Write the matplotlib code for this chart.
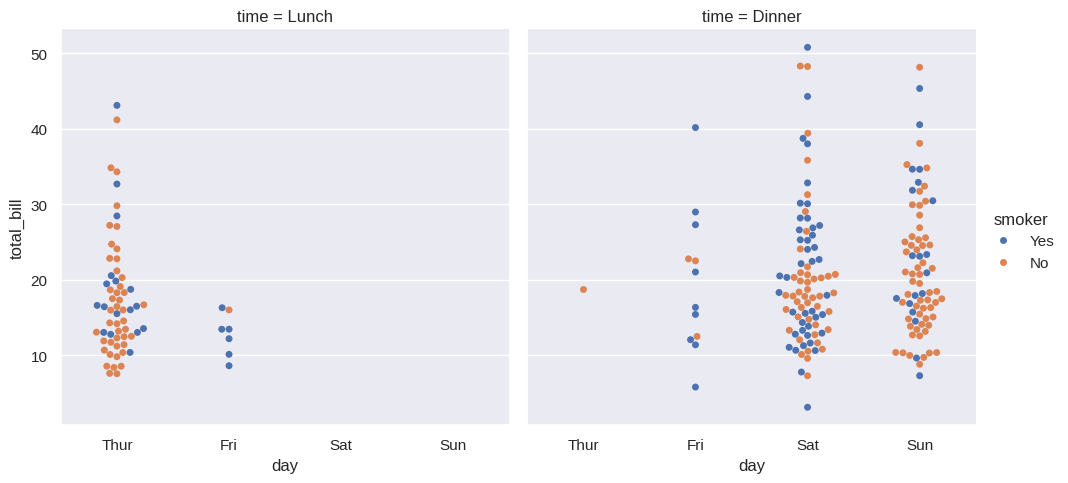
import pandas as pd
import seaborn as sns
import matplotlib
matplotlib.use("Agg")
import matplotlib.pyplot as plt

# === total_bill values, one list per (day, time, smoker) group ===
thur_lunch_yes = [19.44, 32.68, 16.00, 19.81, 28.44, 15.48, 16.58, 10.34, 43.11, 13.00,
                  13.51, 18.71, 12.74, 13.00, 16.40, 20.53, 16.47]
thur_lunch_no = [27.20, 22.76, 17.29, 16.66, 10.07, 15.98, 34.83, 13.03, 18.28, 24.71,
                 21.16, 10.65, 12.43, 24.08, 11.69, 13.42, 14.26, 15.95, 12.48, 29.80,
                 8.52, 14.52, 11.38, 22.82, 19.08, 20.27, 11.17, 12.26, 18.26, 8.51,
                 10.33, 14.15, 13.16, 17.47, 34.30, 41.19, 27.05, 16.43, 8.35, 18.64,
                 11.87, 9.78, 7.51, 7.56]
thur_dinner_no = [18.78]
fri_lunch_yes = [12.16, 13.42, 8.58, 13.42, 16.27, 10.09]
fri_lunch_no = [15.98]
fri_dinner_yes = [28.97, 5.75, 16.32, 40.17, 27.28, 12.03, 21.01, 11.35, 15.38]
fri_dinner_no = [22.49, 22.75, 12.46]
sat_dinner_yes = [38.01, 11.24, 20.29, 13.81, 11.02, 18.29, 3.07, 15.01, 26.86, 25.28,
                  17.92, 44.30, 22.42, 15.36, 20.49, 25.21, 14.31, 10.59, 10.63, 50.81,
                  15.81, 26.59, 38.73, 24.27, 12.76, 30.06, 25.89, 13.27, 28.17, 12.90,
                  28.15, 11.59, 7.74, 30.14, 22.12, 24.01, 15.69, 15.53, 12.60, 32.83,
                  27.18, 22.67]
sat_dinner_no = [20.65, 17.92, 20.29, 15.77, 39.42, 19.82, 17.81, 13.37, 12.69, 21.70,
                 19.65, 9.55, 18.35, 15.06, 20.69, 17.78, 24.06, 16.31, 16.93, 18.69,
                 31.27, 16.04, 26.41, 48.27, 17.59, 20.08, 16.45, 20.23, 12.02, 17.07,
                 14.73, 10.51, 20.92, 18.24, 14.00, 7.25, 48.33, 20.45, 13.28, 11.61,
                 10.77, 10.07, 35.83, 29.03, 17.82]
sun_dinner_yes = [17.51, 7.25, 31.85, 16.82, 32.90, 17.89, 14.48, 9.60, 34.63, 34.65,
                  23.33, 45.35, 23.17, 40.55, 20.90, 30.46, 18.15, 23.10, 15.69]
sun_dinner_no = [16.99, 10.34, 21.01, 23.68, 24.59, 25.29, 8.77, 26.88, 15.04, 14.78,
                 10.27, 35.26, 15.42, 18.43, 14.83, 21.58, 10.33, 16.29, 16.97, 17.46,
                 13.94, 9.68, 30.40, 18.29, 22.23, 32.40, 28.55, 18.04, 12.54, 10.29,
                 34.81, 9.94, 25.56, 19.49, 38.07, 23.95, 25.71, 17.31, 29.93, 14.07,
                 13.13, 17.26, 24.55, 19.77, 29.85, 48.17, 25.00, 13.39, 16.49, 21.50,
                 12.66, 16.21, 13.81, 24.52, 20.76, 31.71, 20.69]

days = ["Thur", "Fri", "Sat", "Sun"]
smokers = ["Yes", "No"]
times = ["Lunch", "Dinner"]

groups = [
    ("Thur", "Lunch", "Yes", thur_lunch_yes),
    ("Thur", "Lunch", "No", thur_lunch_no),
    ("Thur", "Dinner", "No", thur_dinner_no),
    ("Fri", "Lunch", "Yes", fri_lunch_yes),
    ("Fri", "Lunch", "No", fri_lunch_no),
    ("Fri", "Dinner", "Yes", fri_dinner_yes),
    ("Fri", "Dinner", "No", fri_dinner_no),
    ("Sat", "Dinner", "Yes", sat_dinner_yes),
    ("Sat", "Dinner", "No", sat_dinner_no),
    ("Sun", "Dinner", "Yes", sun_dinner_yes),
    ("Sun", "Dinner", "No", sun_dinner_no),
]

rows = []
for day, time, smoker, vals in groups:
    for v in vals:
        rows.append({"total_bill": v, "smoker": smoker, "day": day, "time": time})
tips = pd.DataFrame(rows)
tips["day"] = pd.Categorical(tips["day"], categories=days)
tips["smoker"] = pd.Categorical(tips["smoker"], categories=smokers)
tips["time"] = pd.Categorical(tips["time"], categories=times)

sns.set_theme()
# reference uses an Arial-like face
plt.rcParams["font.family"] = ["Liberation Sans", "DejaVu Sans"]

g = sns.catplot(data=tips, x="day", y="total_bill", hue="smoker", col="time",
                kind="swarm")

g.figure.savefig("out.png", dpi=100, bbox_inches="tight")
